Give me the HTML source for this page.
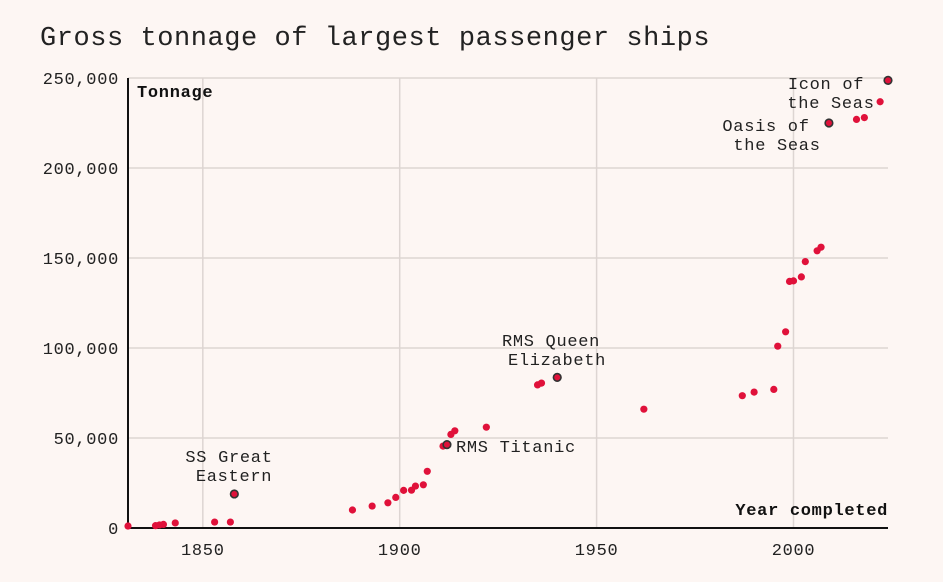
<!DOCTYPE html>
<html><head><meta charset="utf-8"><style>
body{margin:0;background:#fdf6f3;}
svg{display:block;font-family:"Liberation Mono",monospace;}
</style></head><body>
<svg id="c" width="943" height="582">
<text x="40" y="45" font-size="27" letter-spacing="0.55" fill="#222">Gross tonnage of largest passenger ships</text>
</svg>
<script>
const years=[1831,1838,1839,1840,1843,1853,1857,1858,1888,1893,1897,1899,1901,1903,1904,1906,1907,1911,1912,1913,1914,1922,1935,1936,1940,1962,1987,1990,1995,1996,1998,1999,2000,2002,2003,2006,2007,2009,2016,2018,2022,2024];
const tonnage=[1100,1300,1700,2000,2800,3300,3300,18915,10000,12200,14000,17000,20900,21000,23300,24000,31500,45500,46300,52000,54000,56000,79500,80500,83700,66000,73500,75500,77000,101000,109000,137000,137300,139500,148000,154000,156000,225000,227000,228000,236800,248700];
const highlighted=[1858,1912,1940,2009,2024];
const xTicks=[1850,1900,1950,2000];
const yTicks=[0,50000,100000,150000,200000,250000];
const svg=document.getElementById('c');
const NS='http://www.w3.org/2000/svg';
const X0=128,X1=888,Y0=528,Y1=78;
const x=v=>X0+(v-1831)/(2024-1831)*(X1-X0);
const y=v=>Y0-v/250000*(Y0-Y1);
function el(t,a,txt){const e=document.createElementNS(NS,t);for(const k in a)e.setAttribute(k,a[k]);if(txt!=null)e.textContent=txt;svg.appendChild(e);return e;}
yTicks.forEach(t=>{
 const g=el('line',{x1:X0,x2:X1,y1:y(t),y2:y(t),stroke:'#ddd5d2','stroke-width':1.5});
 
 
 const l=el('text',{x:X0-9,y:y(t)+6,'text-anchor':'end','font-size':17,'letter-spacing':0.7,fill:'#222'},t.toLocaleString('en-US'));
 
 
});
xTicks.forEach(t=>{
 const g=el('line',{x1:x(t),x2:x(t),y1:Y1,y2:Y0,stroke:'#ddd5d2','stroke-width':1.5});
 
 
 const l=el('text',{x:x(t),y:Y0+27,'text-anchor':'middle','font-size':17,'letter-spacing':0.7,fill:'#222'},t);
 
 
});
const ax=el('path',{d:`M${X0},${Y1}V${Y0}H${X1}`,fill:'none',stroke:'#111','stroke-width':2});


const yt=el('text',{x:137,y:97,'font-size':17,'font-weight':'bold','letter-spacing':0.7,fill:'#111'},'Tonnage');


const xt=el('text',{x:888,y:515,'text-anchor':'end','font-size':17,'font-weight':'bold','letter-spacing':0.7,fill:'#111'},'Year completed');


years.forEach((yr,i)=>{
 const h=highlighted.includes(yr);
 const c=el('circle',{cx:x(yr),cy:y(tonnage[i]),r:h?3.8:3.6,fill:'#e0113a',stroke:h?'#333':'none','stroke-width':h?1.6:0});
 
 
});
const labels=[["SS Great",229,462,'middle'],["Eastern",234,481,'middle'],["RMS Titanic",456,452,'start'],["RMS Queen",551,346,'middle'],["Elizabeth",557,365,'middle'],["Oasis of",766,131,'middle'],["the Seas",777,150,'middle'],["Icon of",826,89,'middle'],["the Seas",831,108,'middle']];
labels.forEach(l=>{
 const t=el('text',{x:l[1],y:l[2],'text-anchor':l[3],'font-size':17,'letter-spacing':0.7,fill:'#222'},l[0]);
 
 
});
</script>
</body></html>
